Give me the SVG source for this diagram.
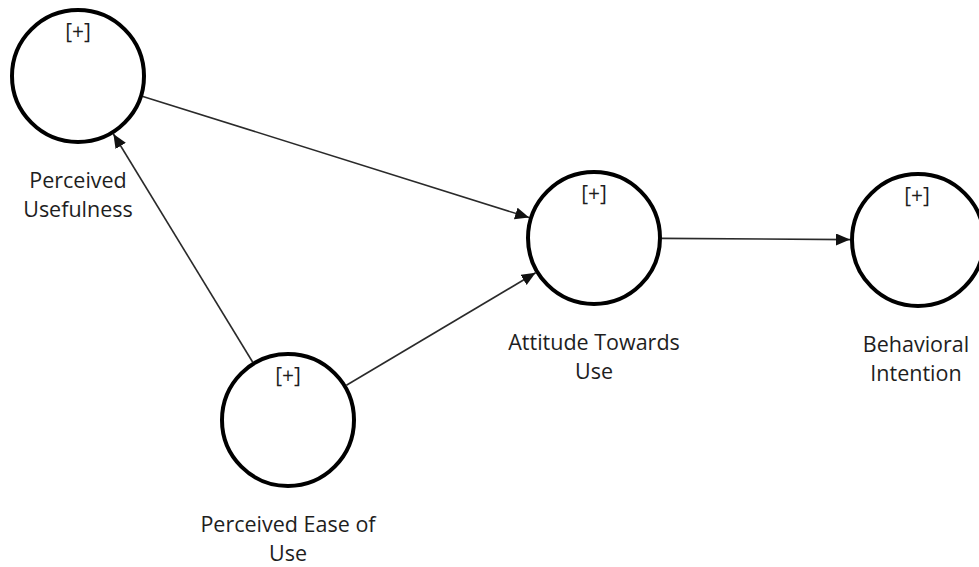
<svg xmlns="http://www.w3.org/2000/svg" width="979" height="567" viewBox="0 0 979 567">
  <style>
    .bg { fill: #ffffff; }
    .latent { fill: #ffffff; stroke: #000000; stroke-width: 4; }
    .txt { font-family: "Open Sans", "Noto Sans", "Liberation Sans", sans-serif; font-size: 21.5px; fill: #1e1e1e; text-anchor: middle; }
    .plus { font-family: "Open Sans", "Noto Sans", "Liberation Sans", sans-serif; font-size: 21px; fill: #1e1e1e; text-anchor: middle; }
    .edge { stroke: #2a2a2a; stroke-width: 1.6; fill: none; marker-end: url(#arrow); }
  </style>
  <defs>
    <marker id="arrow" markerUnits="userSpaceOnUse" markerWidth="16" markerHeight="14" refX="14" refY="6" orient="auto">
      <path d="M0,0 L14,6 L0,12 Z" fill="#111111"/>
    </marker>
  </defs>
  <rect class="bg" x="0" y="0" width="979" height="567"/>

  <!-- paths between constructs -->
  <g id="connectors">
    <line class="edge" x1="142.9" y1="96.4" x2="529.1" y2="217.6"/>
    <line class="edge" x1="346.4" y1="385.2" x2="535.6" y2="272.8"/>
    <line class="edge" x1="252.6" y1="362" x2="113.4" y2="134"/>
    <line class="edge" x1="662" y1="238.4" x2="850" y2="239.6"/>
  </g>

  <g id="perceived-usefulness">
    <circle class="latent" cx="78" cy="76" r="66"/>
    <text class="plus" x="78" y="39">[+]</text>
    <text class="txt" x="78" y="188">Perceived</text>
    <text class="txt" x="78" y="217">Usefulness</text>
  </g>

  <g id="attitude-towards-use">
    <circle class="latent" cx="594" cy="238" r="66"/>
    <text class="plus" x="594" y="201">[+]</text>
    <text class="txt" x="594" y="350">Attitude Towards</text>
    <text class="txt" x="594" y="379">Use</text>
  </g>

  <g id="behavioral-intention">
    <circle class="latent" cx="918" cy="240" r="66"/>
    <text class="plus" x="917" y="203">[+]</text>
    <text class="txt" x="916" y="352">Behavioral</text>
    <text class="txt" x="916" y="381">Intention</text>
  </g>

  <g id="perceived-ease-of-use">
    <circle class="latent" cx="288" cy="420" r="66"/>
    <text class="plus" x="288" y="383">[+]</text>
    <text class="txt" x="288" y="532">Perceived Ease of</text>
    <text class="txt" x="288" y="561">Use</text>
  </g>
</svg>
